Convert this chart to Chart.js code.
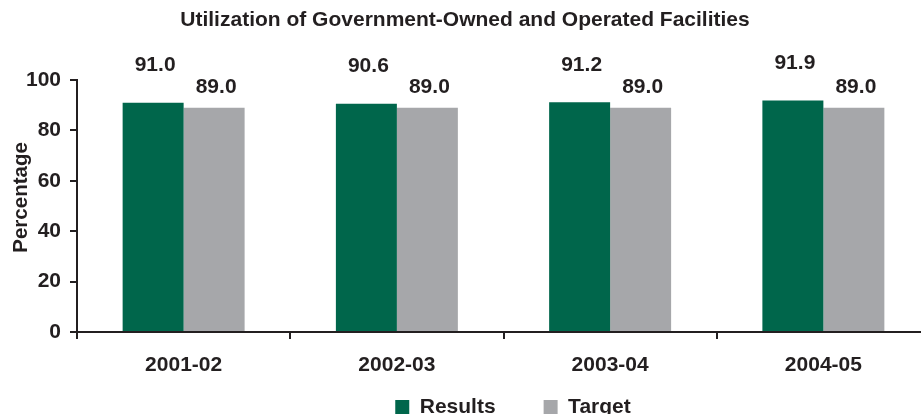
<!DOCTYPE html>
<html>
<head>
<meta charset="utf-8">
<script src="https://cdn.jsdelivr.net/npm/chart.js@4/dist/chart.umd.min.js"></script>
<style>
  html, body { margin: 0; padding: 0; background: #ffffff; overflow: hidden; }
  #wrap { width: 930px; height: 414px; position: relative; }
</style>
</head>
<body>
<div id="wrap"><canvas id="c"></canvas></div>
<script>
const categories = ['2001-02', '2002-03', '2003-04', '2004-05'];
const resultsValues = [91.0, 90.6, 91.2, 91.9];
const targetValues = [89.0, 89.0, 89.0, 89.0];
const yTicks = [0, 20, 40, 60, 80, 100];

const INK = '#231f20';
const FONT = "'Liberation Sans', Arial, Helvetica, sans-serif";

const valueLabels = {
  id: 'valueLabels',
  afterDatasetsDraw(chart) {
    const ctx = chart.ctx;
    ctx.save();
    ctx.font = 'bold 21px ' + FONT;
    ctx.fillStyle = INK;
    ctx.textAlign = 'center';
    ctx.textBaseline = 'middle';
    chart.data.datasets.forEach((ds, i) => {
      const meta = chart.getDatasetMeta(i);
      const rise = ds.labelRise;
      meta.data.forEach((el, j) => {
        ctx.fillText(ds.data[j].toFixed(1), el.x + 2, el.y - rise);
      });
    });
    ctx.restore();
  }
};

// Moves the legend row: widen its box upward (so items sit lower than the
// default padding would place them) and nudge it right.
const legendShift = {
  id: 'legendShift',
  afterLayout(chart) {
    const lg = chart.legend;
    if (!lg) return;
    const dx = 48, raise = 28.5;
    lg.left += dx; lg.right += dx;
    lg.top -= raise;
  }
};

new Chart(document.getElementById('c'), {
  type: 'bar',
  data: {
    labels: categories,
    datasets: [
      { label: 'Results', data: resultsValues, backgroundColor: '#00664b', labelRise: 37 },
      { label: 'Target', data: targetValues, backgroundColor: '#a6a7aa', labelRise: 21 }
    ]
  },
  options: {
    responsive: true,
    maintainAspectRatio: false,
    animation: false,
    devicePixelRatio: 1,
    layout: { padding: { left: 0, right: 0, top: 0, bottom: 0 } },
    datasets: { bar: { categoryPercentage: 0.572, barPercentage: 1.0 } },
    plugins: {
      title: {
        display: true,
        text: 'Utilization of Government-Owned and Operated Facilities',
        color: INK,
        font: { family: FONT, size: 21, weight: 'bold' },
        padding: { top: 7.4, bottom: 47.4 }
      },
      legend: {
        position: 'bottom',
        maxHeight: 37,
        labels: {
          color: INK,
          font: { family: FONT, size: 21, weight: 'bold' },
          boxWidth: 14,
          boxHeight: 14,
          padding: 48,
          useBorderRadius: false
        }
      },
      tooltip: { enabled: false }
    },
    scales: {
      x: {
        grid: { display: true, drawOnChartArea: false, drawTicks: true, tickLength: 7, color: INK, lineWidth: 2, offset: true },
        border: { display: true, color: INK, width: 2 },
        ticks: { color: INK, font: { family: FONT, size: 21, weight: 'bold' }, padding: 14 },
        afterFit(scale) { scale.height = 45; }
      },
      y: {
        min: 0,
        max: 100,
        afterBuildTicks(scale) { scale.ticks = yTicks.map(v => ({ value: v })); },
        grid: { display: true, drawOnChartArea: false, drawTicks: true, tickLength: 7, color: INK, lineWidth: 2 },
        border: { display: true, color: INK, width: 2 },
        ticks: { color: INK, font: { family: FONT, size: 21, weight: 'bold' }, padding: 9 },
        title: {
          display: true,
          text: '   Percentage',
          color: INK,
          font: { family: FONT, size: 20.5, weight: 'bold' },
          padding: { top: 9, bottom: 0 }
        },
        afterFit(scale) { scale.width = 77; }
      }
    }
  },
  plugins: [valueLabels, legendShift]
});
</script>
</body>
</html>
